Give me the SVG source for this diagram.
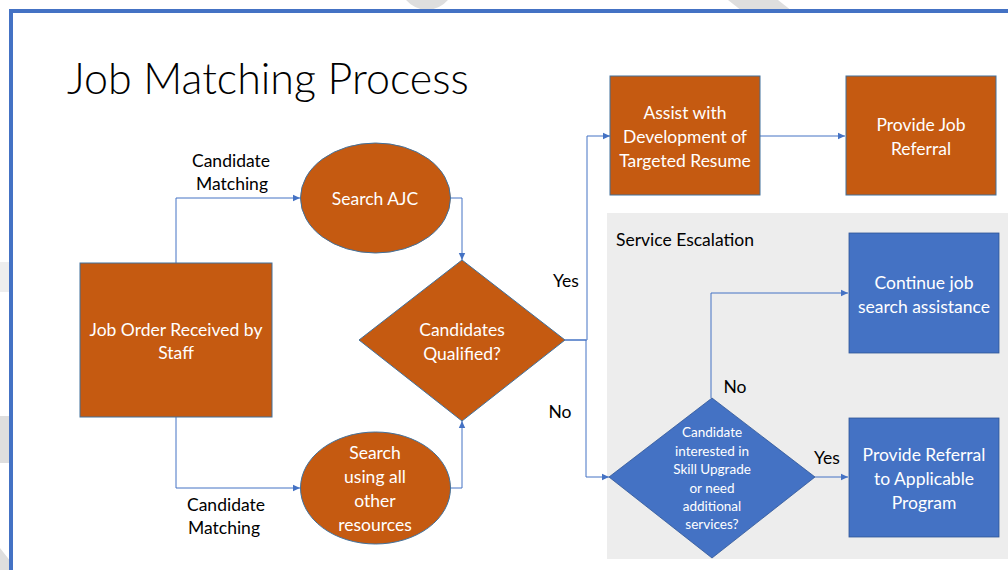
<svg xmlns="http://www.w3.org/2000/svg" width="1008" height="570" viewBox="0 0 1008 570">
<defs>
<style>
.bg{fill:#dedede}
.orange{fill:#c55a11;stroke:#41719c;stroke-width:1}
.blue{fill:#4472c4;stroke:#2f5597;stroke-width:0.8}
.wt{fill:#ffffff;font-family:Lato,"Open Sans",sans-serif;font-size:17.5px;text-anchor:middle;dominant-baseline:central}
.wts{fill:#ffffff;font-family:Lato,"Open Sans",sans-serif;font-size:13.5px;text-anchor:middle;dominant-baseline:central}
.bt{fill:#000000;font-family:Lato,"Open Sans",sans-serif;font-size:17.5px;text-anchor:middle;dominant-baseline:central}
.conn{fill:none;stroke:#4472c4;stroke-width:1}
</style>
<marker id="arr" markerWidth="8" markerHeight="8" refX="7" refY="4" orient="auto" markerUnits="userSpaceOnUse">
<path d="M0,0.8 L7,4 L0,7.2 Z" fill="#4472c4"/>
</marker>
</defs>
<rect x="0" y="0" width="1008" height="570" fill="#ffffff"/>
<g id="decor">
<ellipse class="bg" cx="427" cy="-28" rx="31" ry="38"/>
<polygon class="bg" points="728,0 778,0 792,11 742,11"/>
<rect class="bg" x="0" y="416" width="11" height="47"/>
<polygon class="bg" points="0,548 11,562 11,570 0,570"/>
<rect x="0" y="262" width="11" height="30" fill="#eeeeee"/>
</g>
<rect x="11" y="11" width="1000" height="570" fill="none" stroke="#4472c4" stroke-width="4"/>
<text x="67" y="77" style="font-family:Lato,'Open Sans',sans-serif;font-weight:300;font-size:43px;fill:#000;dominant-baseline:central">Job Matching Process</text>
<g id="panel">
<rect x="607" y="213" width="401" height="346" fill="#ededed"/>
<text x="616" y="239" style="font-family:Lato,'Open Sans',sans-serif;font-size:17.5px;fill:#000;dominant-baseline:central">Service Escalation</text>
</g>
<g id="connectors">
<polyline class="conn" points="176,263 176,198 300,198" marker-end="url(#arr)"/>
<polyline class="conn" points="176,417 176,488 300,488" marker-end="url(#arr)"/>
<polyline class="conn" points="451,198 462,198 462,260" marker-end="url(#arr)"/>
<polyline class="conn" points="451,488 462,488 462,421" marker-end="url(#arr)"/>
<polyline class="conn" points="565,340 587,340 587,136 610,136" marker-end="url(#arr)"/>
<polyline class="conn" points="565,340 586,340 586,477 609,477" marker-end="url(#arr)"/>
<polyline class="conn" points="760,136 845,136" marker-end="url(#arr)"/>
<polyline class="conn" points="711,398 711,293 848,293" marker-end="url(#arr)"/>
<polyline class="conn" points="815,477 848,477" marker-end="url(#arr)"/>
<text class="bt" x="231" y="160">Candidate</text>
<text class="bt" x="232" y="183">Matching</text>
<text class="bt" x="226" y="504">Candidate</text>
<text class="bt" x="224" y="527">Matching</text>
<text class="bt" x="566" y="280">Yes</text>
<text class="bt" x="560" y="411">No</text>
<text class="bt" x="735" y="386">No</text>
<text class="bt" x="827" y="457">Yes</text>
</g>
<g id="job-order">
<rect class="orange" x="80" y="263" width="192" height="154"/>
<text class="wt" x="176" y="329">Job Order Received by</text>
<text class="wt" x="176" y="352">Staff</text>
</g>
<g id="search-ajc">
<ellipse class="orange" cx="375.5" cy="198" rx="75" ry="55"/>
<text class="wt" x="375" y="198">Search AJC</text>
</g>
<g id="search-other">
<ellipse class="orange" cx="375.5" cy="488" rx="75" ry="56"/>
<text class="wt" x="375" y="452">Search</text>
<text class="wt" x="375" y="476">using all</text>
<text class="wt" x="375" y="500">other</text>
<text class="wt" x="375" y="524">resources</text>
</g>
<g id="candidates-qualified">
<polygon class="orange" points="462,260 565,340 462,421 359,340"/>
<text class="wt" x="462" y="329">Candidates</text>
<text class="wt" x="462" y="353">Qualified?</text>
</g>
<g id="assist-resume">
<rect class="orange" x="610" y="76" width="150" height="119"/>
<text class="wt" x="685" y="112">Assist with</text>
<text class="wt" x="685" y="136">Development of</text>
<text class="wt" x="685" y="160">Targeted Resume</text>
</g>
<g id="job-referral">
<rect class="orange" x="846" y="76" width="150" height="119"/>
<text class="wt" x="921" y="124">Provide Job</text>
<text class="wt" x="921" y="148">Referral</text>
</g>
<g id="continue-search">
<rect class="blue" x="849" y="233" width="150" height="120"/>
<text class="wt" x="924" y="282">Continue job</text>
<text class="wt" x="924" y="306">search assistance</text>
</g>
<g id="skill-upgrade">
<polygon class="blue" points="712,398 815,477 712,558 609,477"/>
<text class="wts" x="712" y="432">Candidate</text>
<text class="wts" x="712" y="451">interested in</text>
<text class="wts" x="712" y="469">Skill Upgrade</text>
<text class="wts" x="712" y="488">or need</text>
<text class="wts" x="712" y="506">additional</text>
<text class="wts" x="712" y="524">services?</text>
</g>
<g id="provide-program">
<rect class="blue" x="849" y="418" width="150" height="119"/>
<text class="wt" x="924" y="454">Provide Referral</text>
<text class="wt" x="924" y="478">to Applicable</text>
<text class="wt" x="924" y="502">Program</text>
</g>
</svg>
